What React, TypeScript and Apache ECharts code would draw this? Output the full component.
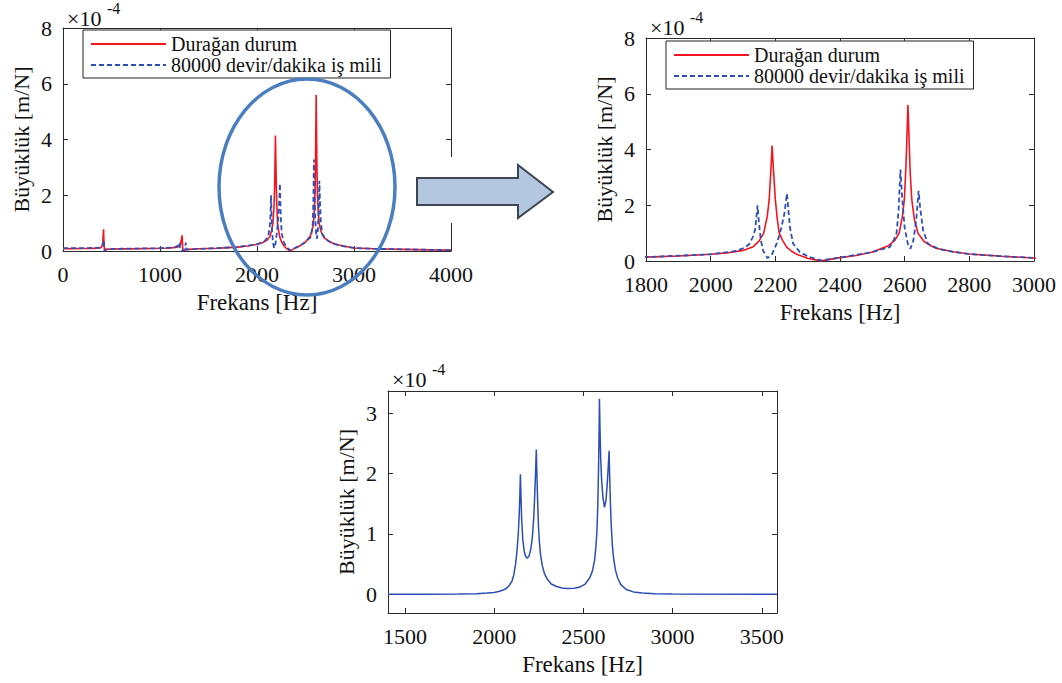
import React, { useEffect, useRef } from 'react';
import * as echarts from 'echarts';

const LEGEND_NAMES = ['Durağan durum', '80000 devir/dakika iş mili'];
const X_TITLE = 'Frekans [Hz]';
const Y_TITLE = 'Büyüklük [m/N]';
const EXP_BASE = '×10';
const EXP_POWER = '-4';

const yTicksTop = [0, 2, 4, 6, 8];
const xTicksFull = [0, 1000, 2000, 3000, 4000];
const xTicksZoom = [1800, 2000, 2200, 2400, 2600, 2800, 3000];
const xTicksDiff = [1500, 2000, 2500, 3000, 3500];
const yTicksDiff = [0, 1, 2, 3];

// magnitude in 1e-4 m/N
const staticCurve: [number, number][] = [
  [0, 0.08], [100, 0.085], [200, 0.09], [300, 0.095], [380, 0.11], [400, 0.15], [410, 0.3], [418, 0.78], [422, 0.3], [428, 0.02],
  [440, 0.06], [500, 0.07], [600, 0.075], [800, 0.085], [1000, 0.1], [1100, 0.11], [1180, 0.14], [1210, 0.2], [1228, 0.56], [1234, 0.1],
  [1240, 0.01], [1260, 0.04], [1300, 0.06], [1400, 0.08], [1500, 0.09], [1600, 0.1], [1700, 0.12], [1800, 0.14], [1900, 0.18], [2000, 0.24],
  [2050, 0.29], [2100, 0.38], [2130, 0.5], [2150, 0.72], [2164, 1.0], [2175, 1.6], [2181, 2.2], [2186, 3.2], [2190, 4.14], [2194, 3.3],
  [2200, 2.2], [2206, 1.5], [2212, 1.0], [2222, 0.75], [2235, 0.5], [2250, 0.35], [2270, 0.22], [2300, 0.1], [2320, 0.05], [2340, 0.0],
  [2360, 0.04], [2400, 0.12], [2450, 0.2], [2500, 0.32], [2550, 0.55], [2570, 0.75], [2583, 1.0], [2593, 1.6], [2599, 2.2], [2604, 3.4],
  [2608, 4.8], [2610, 5.6], [2613, 4.6], [2617, 3.2], [2622, 2.2], [2630, 1.5], [2641, 1.0], [2660, 0.7], [2680, 0.55], [2700, 0.45],
  [2750, 0.33], [2800, 0.25], [2900, 0.17], [3000, 0.11], [3200, 0.08], [3500, 0.06], [3800, 0.04], [4000, 0.03],
];

const spindleCurve: [number, number][] = [
  [0, 0.1], [200, 0.1], [380, 0.12], [412, 0.2], [422, 0.4], [426, 0.05], [432, 0.0], [445, 0.06], [600, 0.08], [1000, 0.1],
  [1150, 0.13], [1190, 0.2], [1200, 0.3], [1207, 0.05], [1220, 0.0], [1255, 0.05], [1266, 0.3], [1274, 0.05], [1300, 0.06], [1500, 0.09],
  [1800, 0.14], [2000, 0.24], [2080, 0.36], [2105, 0.48], [2119, 0.6], [2130, 0.85], [2137, 1.1], [2141, 1.5], [2145, 2.0], [2149, 1.4],
  [2155, 0.75], [2163, 0.35], [2176, 0.1], [2190, 0.25], [2204, 0.62], [2213, 0.95], [2219, 1.22], [2228, 1.7], [2236, 2.42], [2240, 1.9],
  [2245, 1.22], [2255, 0.62], [2276, 0.32], [2300, 0.17], [2340, 0.02], [2400, 0.12], [2500, 0.32], [2554, 0.5], [2566, 0.75], [2575, 1.0],
  [2581, 1.8], [2587, 3.28], [2592, 2.3], [2600, 1.2], [2610, 0.6], [2618, 0.44], [2627, 0.75], [2636, 1.5], [2643, 2.52], [2648, 1.9],
  [2657, 1.1], [2672, 0.62], [2703, 0.44], [2750, 0.33], [2800, 0.25], [2900, 0.17], [3000, 0.11], [3200, 0.08], [3500, 0.06], [4000, 0.03],
];

const diffCurve: [number, number][] = [
  [1405, 0], [1600, 0], [1800, 0.005], [1900, 0.01], [1960, 0.02], [2000, 0.03], [2030, 0.05], [2050, 0.07], [2070, 0.1], [2085, 0.15],
  [2100, 0.22], [2110, 0.32], [2120, 0.5], [2128, 0.72], [2135, 1.0], [2140, 1.3], [2144, 1.65], [2147, 1.99], [2150, 1.65], [2154, 1.25],
  [2160, 0.92], [2168, 0.72], [2176, 0.63], [2186, 0.6], [2196, 0.64], [2206, 0.76], [2214, 0.95], [2222, 1.28], [2228, 1.7], [2233, 2.1],
  [2236, 2.4], [2239, 2.05], [2243, 1.6], [2248, 1.15], [2253, 0.88], [2260, 0.65], [2270, 0.47], [2282, 0.34], [2300, 0.24], [2320, 0.17],
  [2350, 0.13], [2380, 0.105], [2410, 0.095], [2450, 0.1], [2480, 0.12], [2510, 0.17], [2535, 0.27], [2550, 0.38], [2562, 0.55], [2570, 0.78],
  [2576, 1.05], [2581, 1.5], [2585, 2.1], [2588, 2.7], [2590, 3.24], [2593, 2.75], [2597, 2.25], [2602, 1.9], [2609, 1.62], [2618, 1.44],
  [2626, 1.55], [2633, 1.8], [2639, 2.1], [2644, 2.38], [2647, 2.0], [2651, 1.55], [2656, 1.15], [2662, 0.82], [2670, 0.58], [2680, 0.4],
  [2692, 0.27], [2710, 0.16], [2740, 0.08], [2780, 0.04], [2830, 0.02], [2900, 0.01], [3000, 0.005], [3585, 0],
];

const FONT = '"Liberation Serif", "Times New Roman", Times, serif';
const AXC = '#2a2a2a';
const TXT = '#111';
const RED = '#f5141e';
const BLUE = '#2f4fb8';
const BLUE3 = '#2d4db5';

const plain = (v: number) => String(v);

function xAxisPair(gridIndex: number, min: number, max: number, ticks: number[]) {
  const common = {
    type: 'value', gridIndex, min, max,
    axisLine: { show: true, onZero: false, lineStyle: { color: AXC, width: 1 } },
    axisTick: { show: true, inside: true, length: 5, customValues: ticks, lineStyle: { color: AXC } },
    splitLine: { show: false },
  };
  return [
    {
      ...common, position: 'bottom',
      axisLabel: { show: true, customValues: ticks, margin: 12, formatter: plain, fontFamily: FONT, fontSize: 22, color: TXT },
      name: X_TITLE, nameLocation: 'middle', nameGap: 40,
      nameTextStyle: { fontFamily: FONT, fontSize: 23, color: TXT, fontWeight: 'normal', verticalAlign: 'top' },
    },
    { ...common, position: 'top', axisLabel: { show: false } },
  ];
}

function yAxisPair(gridIndex: number, min: number, max: number, ticks: number[]) {
  const common = {
    type: 'value', gridIndex, min, max,
    axisLine: { show: true, onZero: false, lineStyle: { color: AXC, width: 1 } },
    axisTick: { show: true, inside: true, length: 5, customValues: ticks, lineStyle: { color: AXC } },
    splitLine: { show: false },
  };
  return [
    {
      ...common, position: 'left',
      axisLabel: { show: true, customValues: ticks, margin: 11, formatter: plain, fontFamily: FONT, fontSize: 22, color: TXT },
      name: Y_TITLE, nameLocation: 'middle', nameGap: 31,
      nameTextStyle: { fontFamily: FONT, fontSize: 22, color: TXT, fontWeight: 'normal' },
    },
    { ...common, position: 'right', axisLabel: { show: false } },
  ];
}

function legendAt(left: number, top: number) {
  return {
    data: LEGEND_NAMES, left, top, orient: 'vertical',
    backgroundColor: '#fff', borderColor: '#222', borderWidth: 1, borderRadius: 0,
    padding: [4, 9, 3, 7], itemGap: 1, itemWidth: 75, itemHeight: 14,
    selectedMode: false,
    itemStyle: { opacity: 0, borderWidth: 0 },
    textStyle: { fontFamily: FONT, fontSize: 20, color: TXT, lineHeight: 20 },
  };
}

function expText(x: number, y: number) {
  return [
    { type: 'text', z: 100, style: { x, y, text: EXP_BASE, font: `22px ${FONT}`, fill: TXT, verticalAlign: 'middle' } },
    { type: 'text', z: 100, style: { x: x + 40, y: y - 10, text: EXP_POWER, font: `16px ${FONT}`, fill: TXT, verticalAlign: 'middle' } },
  ];
}

export default function App() {
  const ref = useRef<HTMLDivElement>(null);
  useEffect(() => {
    if (!ref.current) return;
    const chart = echarts.init(ref.current, undefined, { renderer: 'svg' });
    const lineSeries = (name: string, data: [number, number][], xi: number, color: string, dashed: boolean) => ({
      type: 'line', name, data, xAxisIndex: xi, yAxisIndex: xi, symbol: 'none', showSymbol: false, clip: true,
      lineStyle: { color, width: dashed ? 1.8 : 1.6, type: dashed ? [5, 3] : 'solid' },
      itemStyle: { color }, z: dashed ? 3 : 2,
    });
    chart.setOption({
      animation: false,
      backgroundColor: '#fff',
      textStyle: { fontFamily: FONT, color: TXT },
      grid: [
        { left: 63, top: 28, width: 388, height: 223 },
        { left: 646, top: 38, width: 388, height: 223 },
        { left: 388, top: 391, width: 389, height: 222 },
      ],
      xAxis: [
        ...xAxisPair(0, 0, 4000, xTicksFull),
        ...xAxisPair(1, 1800, 3000, xTicksZoom),
        ...xAxisPair(2, 1405, 3585, xTicksDiff),
      ],
      yAxis: [
        ...yAxisPair(0, 0, 8, yTicksTop),
        ...yAxisPair(1, 0, 8, yTicksTop),
        ...yAxisPair(2, -0.31, 3.37, yTicksDiff),
      ],
      legend: [legendAt(83, 30), legendAt(666, 41)],
      series: [
        lineSeries(LEGEND_NAMES[0], staticCurve, 0, RED, false),
        lineSeries(LEGEND_NAMES[1], spindleCurve, 0, BLUE, true),
        lineSeries(LEGEND_NAMES[0], staticCurve, 2, RED, false),
        lineSeries(LEGEND_NAMES[1], spindleCurve, 2, BLUE, true),
        { ...lineSeries('Fark', diffCurve, 4, BLUE3, false), lineStyle: { color: BLUE3, width: 1.5 } },
      ],
      graphic: [
        ...expText(67, 18),
        ...expText(650, 27),
        ...expText(392, 379),
        { type: 'rect', z: 99, shape: { x: 440, y: 157, width: 20, height: 66 }, style: { fill: '#fff' } },
        {
          type: 'polygon', z: 100,
          shape: { points: [[417, 178], [518, 178], [518, 165], [553, 192], [518, 218], [518, 205], [417, 205]] },
          style: { fill: '#b4c7e1', stroke: '#3d4650', lineWidth: 2 },
        },
        {
          type: 'ellipse', z: 100,
          shape: { cx: 307, cy: 187, rx: 88, ry: 108 },
          style: { fill: 'none', stroke: '#4a7ebf', lineWidth: 3.5 },
        },
      ],
    });
    return () => chart.dispose();
  }, []);
  return <div ref={ref} style={{ position: 'absolute', left: 0, top: 0, width: 1062, height: 683 }} />;
}
